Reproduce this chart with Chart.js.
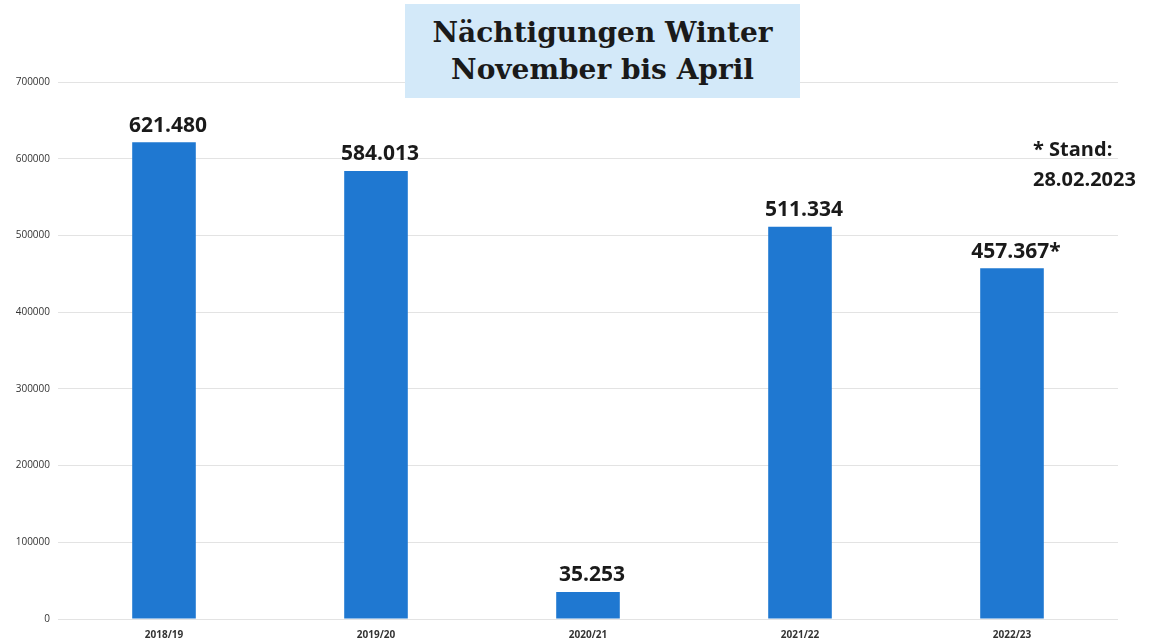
<!DOCTYPE html>
<html>
<head>
<meta charset="utf-8">
<script src="https://cdn.jsdelivr.net/npm/chart.js@4.4.1/dist/chart.umd.min.js"></script>
<style>
html,body{margin:0;padding:0;background:#fff;}
#wrap{position:relative;width:1150px;height:640px;}
#title{position:absolute;left:405px;top:4px;width:395px;height:94px;background:#d3e9f9;
  font-family:"DejaVu Serif",serif;font-weight:bold;font-size:28px;line-height:37px;color:#1a1a1a;
  text-align:center;box-sizing:border-box;padding-top:10px;}
#note{position:absolute;left:1033px;top:134px;font-family:"Open Sans",sans-serif;font-weight:bold;
  font-size:20px;line-height:30px;color:#1a1a1a;}
canvas{position:absolute;left:0;top:0;}
</style>
</head>
<body>
<div id="wrap">
<canvas id="c" width="1150" height="640"></canvas>
<div id="title">Nächtigungen Winter<br>November bis April</div>
<div id="note">* Stand:<br>28.02.2023</div>
</div>
<script>
const categories = ["2018/19","2019/20","2020/21","2021/22","2022/23"];
const values = [621480, 584013, 35253, 511334, 457367];
const valueLabels = ["621.480","584.013","35.253","511.334","457.367*"];
const yTicks = [0,100000,200000,300000,400000,500000,600000,700000];

const labelPlugin = {
  id:'valueLabels',
  afterDatasetsDraw(chart){
    const ctx = chart.ctx;
    const meta = chart.getDatasetMeta(0);
    ctx.save();
    ctx.font = 'bold 21px "Open Sans", sans-serif';
    ctx.fillStyle = '#1a1a1a';
    ctx.textAlign = 'center';
    ctx.textBaseline = 'bottom';
    meta.data.forEach((bar,i)=>{
      ctx.fillText(valueLabels[i], bar.x + 4, bar.y - 6);
    });
    ctx.restore();
  }
};

new Chart(document.getElementById('c'), {
  type:'bar',
  data:{labels:categories, datasets:[{data:values, backgroundColor:'#1f78d1', borderWidth:0,
    categoryPercentage:1, barPercentage:0.3}]},
  options:{
    responsive:false, animation:false,
    layout:{padding:{left:0,right:32,top:82,bottom:0}},
    plugins:{legend:{display:false}, title:{display:false}, tooltip:{enabled:false}},
    scales:{
      x:{grid:{display:false}, border:{display:false},
        ticks:{color:'#333',font:{family:'"Open Sans", sans-serif',size:10,weight:'bold'},padding:2},
        afterFit(s){s.height=21;}},
      y:{min:0,max:700000,
        afterBuildTicks(s){s.ticks = yTicks.map(v=>({value:v}));},
        grid:{color:'#e3e3e3',tickLength:0,lineWidth:1}, border:{display:false},
        ticks:{color:'#333',font:{family:'"Open Sans", sans-serif',size:10},padding:8,
          callback:v=>String(v)},
        afterFit(s){s.width=58;}}
    }
  },
  plugins:[labelPlugin]
});
</script>
</body>
</html>
